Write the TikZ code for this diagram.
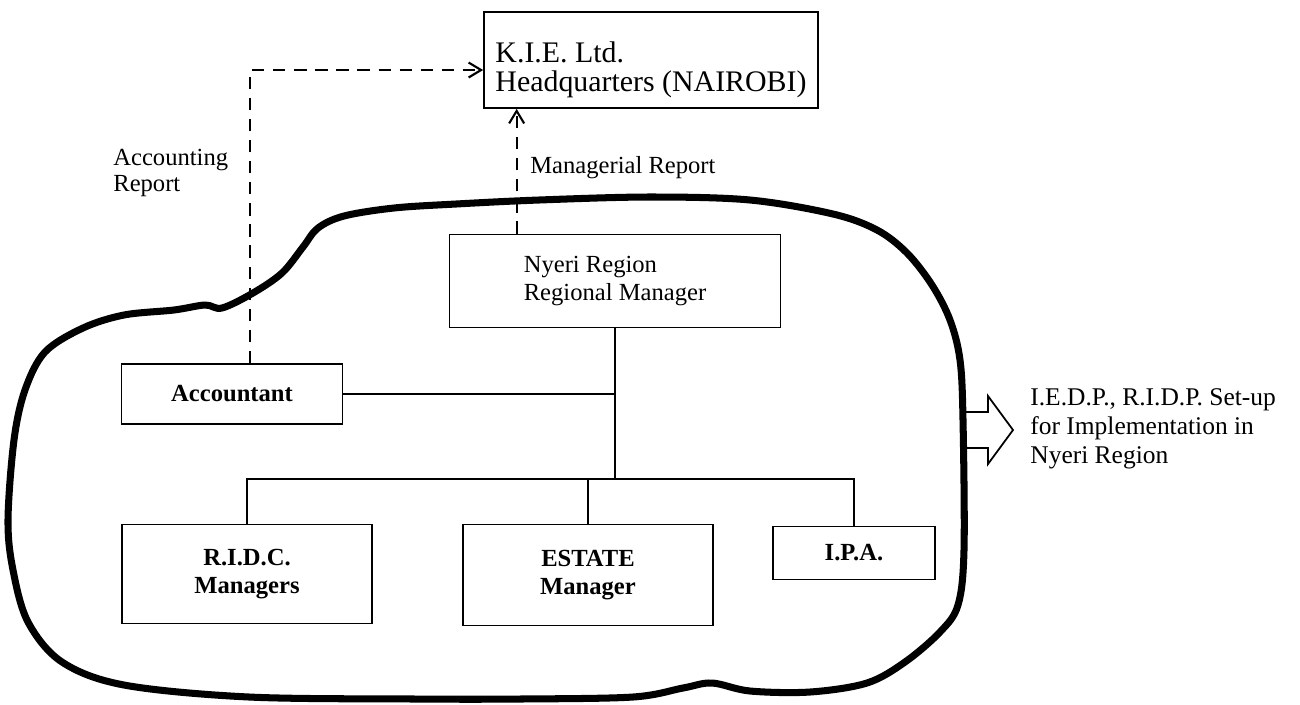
\documentclass[tikz,border=0pt]{standalone}
\usepackage{fontspec}
\setmainfont{Liberation Serif}
\usetikzlibrary{arrows.meta,positioning,calc}
\tikzset{
  orgbox/.style={draw,line width=1pt,align=center,inner sep=2pt,
    font=\fontsize{14}{16}\selectfont},
  orgboxb/.style={orgbox,font=\fontsize{14}{16}\selectfont\bfseries},
  orgline/.style={line width=0.9pt},
  rptline/.style={line width=1.2pt,dash pattern=on 7pt off 5pt,
    -{Straight Barb[length=2.5mm,width=3mm]}},
  rptlabel/.style={align=left,anchor=west,inner sep=0pt,
    font=\fontsize{14}{15}\selectfont},
  regionline/.style={line width=4pt,line join=round},
}

\begin{document}
\begin{tikzpicture}[x=0.02cm,y=-0.02cm]
\useasboundingbox (0,0) rectangle (1300,704);
% head office
\node[orgbox,align=left,minimum width=6.68cm,minimum height=1.92cm,
  font=\fontsize{17}{16}\selectfont] (hq) at (651,60)
  {\rule{0pt}{23pt}K.I.E. Ltd.\\Headquarters (NAIROBI)};
% region set-up
\node[orgbox,align=left,minimum width=6.62cm,minimum height=1.86cm] (nyeri) at (615,281) {Nyeri Region\\Regional Manager};
\node[orgboxb,minimum width=4.42cm,minimum height=1.2cm] (acct) at (232,394) {Accountant};
\node[orgboxb,minimum width=5cm,minimum height=1.98cm] (ridc) at (247,574) {R.I.D.C.\\Managers};
\node[orgboxb,minimum width=5cm,minimum height=2.02cm] (estate) at (588,575) {ESTATE\\Manager};
\node[orgboxb,minimum width=3.24cm,minimum height=1.06cm] (ipa) at (854,553) {I.P.A.};
\coordinate (bus) at (612,479);
\draw[orgline] (nyeri.south) -- (nyeri.south |- bus);
\draw[orgline] (acct.east) -- (acct.east -| nyeri.south);
\draw[orgline] (ridc.north) |- (ipa.north |- bus) -- (ipa.north);
\draw[orgline] (estate.north) -- (estate.north |- bus);
% reports to head office
\coordinate (accrpt) at ([xshift=0.36cm]acct.north);
\coordinate (mgrrpt) at ([xshift=1.36cm]nyeri.north west);
\draw[rptline] (accrpt) |- ([yshift=-0.2cm]hq.west);
\draw[rptline] (mgrrpt) -- (mgrrpt |- hq.south);
\node[rptlabel] (acclbl) at (113,173) {Accounting\\Report};
\node[rptlabel] (mgrlbl) at (530,168) {Managerial Report};
% region outline
\draw[regionline] plot[smooth cycle,tension=0.55] coordinates {
  (8,520) (14,440) (25,390) (45,352) (83,328) (124,315) (174,310)
  (205,305) (222,308) (253,293) (282,273) (303,247) (318,228) (344,216)
  (394,208) (456,204) (539,200) (650,197) (750,200) (833,214) (877,230)
  (907,253) (932,285) (950,320) (960,360) (963,420) (964,550) (958,605)
  (940,632) (905,662) (867,683) (810,692) (750,691) (712,683) (683,688)
  (633,697) (520,699) (415,699) (249,697) (124,685) (62,662) (28,622)
  (13,570)};
% outcome
\coordinate (outtail) at (966,430);
\draw[line width=1pt] (outtail) ++(0,-18) -- ++(22,0) -- ++(0,-16) -- ++(25,34)
  -- ++(-25,34) -- ++(0,-16) -- ++(-22,0);
\node[rptlabel,font=\fontsize{14.5}{16.5}\selectfont] (setup) at (1030,429)
  {I.E.D.P., R.I.D.P. Set-up\\for Implementation in\\Nyeri Region};
\end{tikzpicture}
\end{document}
